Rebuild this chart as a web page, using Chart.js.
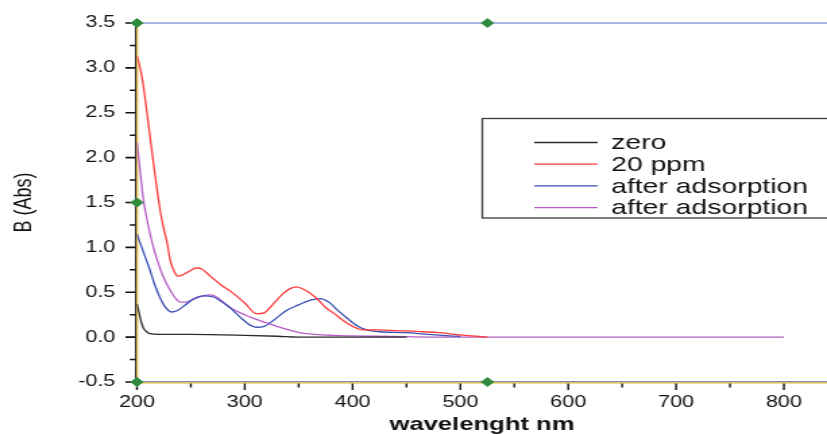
<!DOCTYPE html>
<html>
<head>
<meta charset="utf-8">
<title>UV-Vis spectra</title>
<script src="https://cdn.jsdelivr.net/npm/chart.js@4.4.1/dist/chart.umd.min.js"></script>
<style>
    html, body { margin: 0; padding: 0; background: #fff; overflow: hidden; }
    #spectrum { display: block; }
</style>
</head>
<body>
<!-- drawn narrow and stretched wide, like the exported plot -->
<canvas id="spectrum" width="613" height="434" style="width:827px;height:434px"></canvas>
<script>
// absorbance spectra (wavelength in nm, absorbance)
const zeroWl  = [200, 202, 204, 206, 209, 213, 220, 250, 300, 330, 350, 400, 450];
const zeroAbs = [0.37, 0.27, 0.17, 0.10, 0.06, 0.035, 0.03, 0.03, 0.02, 0.01, 0.0, 0.0, 0.0];

const ppmWl  = [200, 203, 206, 209, 212, 215, 218, 221, 225, 228, 231, 235, 238, 242, 248, 255, 260, 268, 278, 289,
                300, 311, 318, 325, 335, 342, 348, 355, 365, 375, 382, 392, 400, 410, 420, 435, 450, 465, 480, 495, 510, 525];
const ppmAbs = [3.13, 3.0, 2.8, 2.53, 2.25, 1.97, 1.7, 1.45, 1.2, 1.05, 0.85, 0.72, 0.68, 0.69, 0.73, 0.77, 0.76, 0.68, 0.58, 0.49,
                0.38, 0.26, 0.27, 0.35, 0.48, 0.54, 0.56, 0.53, 0.45, 0.33, 0.27, 0.18, 0.12, 0.08, 0.08, 0.075, 0.07, 0.06, 0.05, 0.03, 0.015, 0.0];

const adsAWl  = [200, 203, 206, 209, 212, 216, 221, 226, 232, 238, 245, 253, 261, 270, 278, 287, 296, 303, 311, 318,
                 328, 339, 350, 360, 370, 378, 386, 395, 405, 413, 425, 450, 470, 490, 500];
const adsAAbs = [1.15, 1.05, 0.95, 0.85, 0.75, 0.6, 0.45, 0.34, 0.28, 0.3, 0.36, 0.43, 0.46, 0.45, 0.4, 0.32, 0.22, 0.15, 0.11, 0.12,
                 0.2, 0.3, 0.36, 0.41, 0.43, 0.39, 0.3, 0.21, 0.12, 0.08, 0.06, 0.05, 0.03, 0.015, 0.01];

const adsBWl  = [200, 203, 206, 209, 212, 216, 221, 226, 231, 236, 240, 245, 252, 261, 268, 275, 282, 289, 300, 310,
                 320, 335, 351, 365, 382, 420, 450, 500, 600, 700, 800];
const adsBAbs = [2.17, 1.85, 1.53, 1.33, 1.16, 0.97, 0.78, 0.63, 0.52, 0.43, 0.39, 0.39, 0.42, 0.46, 0.47, 0.44, 0.37, 0.31, 0.25, 0.2,
                 0.16, 0.1, 0.05, 0.03, 0.02, 0.01, 0.005, 0.0, 0.0, 0.0, 0.0];

const seriesLabels = ['zero', '20 ppm', 'after adsorption', 'after adsorption'];
const seriesColors = ['#2b2b2b', '#ff3b3b', '#3c4fb4', '#b55cc4'];

// axis anchor markers
const markerWl  = [200, 525, 200, 200, 525];
const markerAbs = [3.5, 3.5, 1.5, -0.5, -0.5];

// ticks: labelled majors plus unlabelled minors in between
const xMajor = [200, 300, 400, 500, 600, 700, 800];
const xMinor = [250, 350, 450, 550, 650, 750];
const yMajor = [-0.5, 0.0, 0.5, 1.0, 1.5, 2.0, 2.5, 3.0, 3.5];
const yMinor = [-0.25, 0.25, 0.75, 1.25, 1.75, 2.25, 2.75, 3.25];

const FONT = "'Liberation Sans', Arial, sans-serif";

function zip(xs, ys) {
    return xs.map((x, i) => ({ x: x, y: ys[i] }));
}

function withMinors(major, minor) {
    return major.concat(minor).sort((a, b) => a - b).map(v => ({ value: v }));
}

// frame lines and tick marks
const axisFrame = {
    id: 'axisFrame',
    beforeDatasetsDraw(chart) {
        const { ctx, chartArea: a, scales } = chart;
        ctx.save();
        ctx.lineCap = 'butt';

        ctx.strokeStyle = '#4d6fc9';
        ctx.lineWidth = 1.2;
        ctx.beginPath();
        ctx.moveTo(a.left, a.top);
        ctx.lineTo(a.right, a.top);
        ctx.stroke();

        ctx.strokeStyle = '#e3b32a';
        ctx.lineWidth = 1.4;
        ctx.beginPath();
        ctx.moveTo(a.left, a.bottom + 0.9);
        ctx.lineTo(a.right, a.bottom + 0.9);
        ctx.stroke();
        ctx.strokeStyle = '#6f7f9f';
        ctx.lineWidth = 1;
        ctx.beginPath();
        ctx.moveTo(a.left, a.bottom - 0.4);
        ctx.lineTo(a.right, a.bottom - 0.4);
        ctx.stroke();

        ctx.strokeStyle = '#1e1e1e';
        ctx.lineWidth = 1.1;
        ctx.beginPath();
        ctx.moveTo(a.left - 0.9, a.top);
        ctx.lineTo(a.left - 0.9, a.bottom + 1.5);
        ctx.stroke();
        ctx.strokeStyle = '#e3b32a';
        ctx.lineWidth = 1.1;
        ctx.beginPath();
        ctx.moveTo(a.left + 0.3, a.top);
        ctx.lineTo(a.left + 0.3, a.bottom + 1.5);
        ctx.stroke();

        ctx.strokeStyle = '#111';
        ctx.lineWidth = 1.4;
        ctx.beginPath();
        scales.x.ticks.forEach(t => {
            const px = scales.x.getPixelForValue(t.value);
            const len = xMajor.includes(t.value) ? 6.5 : 4;
            ctx.moveTo(px, a.bottom + 1.5);
            ctx.lineTo(px, a.bottom + 1.5 + len);
        });
        ctx.stroke();
        ctx.lineWidth = 1.6;
        ctx.beginPath();
        scales.y.ticks.forEach(t => {
            const py = scales.y.getPixelForValue(t.value);
            const len = yMajor.includes(t.value) ? 7 : 3.8;
            ctx.moveTo(a.left - 1.5 - len, py);
            ctx.lineTo(a.left - 1.5, py);
        });
        ctx.stroke();
        ctx.restore();
    }
};

// boxed legend in the upper right
const boxLegend = {
    id: 'boxLegend',
    afterDraw(chart) {
        const ctx = chart.ctx;
        const sets = chart.data.datasets.filter(d => d.label);
        ctx.save();
        ctx.fillStyle = '#fff';
        ctx.fillRect(357, 118, 300, 100);
        ctx.strokeStyle = '#3c3c3c';
        ctx.lineWidth = 1.3;
        ctx.strokeRect(357.5, 118.5, 300, 99.5);
        ctx.font = '21px ' + FONT;
        ctx.textBaseline = 'middle';
        sets.forEach((d, i) => {
            const yy = 142.5 + i * 21.7;
            ctx.strokeStyle = d.borderColor;
            ctx.lineWidth = 1.3;
            ctx.beginPath();
            ctx.moveTo(396, yy);
            ctx.lineTo(443, yy);
            ctx.stroke();
            ctx.fillStyle = '#111';
            ctx.fillText(d.label, 453, yy + 1);
        });
        ctx.restore();
    }
};

const spectra = [
    [zeroWl, zeroAbs],
    [ppmWl, ppmAbs],
    [adsAWl, adsAAbs],
    [adsBWl, adsBAbs]
].map(([wl, abs], i) => ({
    label: seriesLabels[i],
    data: zip(wl, abs),
    borderColor: seriesColors[i],
    borderWidth: 1.3,
    pointRadius: 0,
    cubicInterpolationMode: 'monotone',
    fill: false
}));

const markers = {
    label: '',
    data: zip(markerWl, markerAbs),
    showLine: false,
    pointStyle: 'rectRot',
    pointRadius: 4.5,
    pointBackgroundColor: '#2e8b3c',
    pointBorderColor: '#2e8b3c',
    clip: false,
    order: -1
};

new Chart(document.getElementById('spectrum').getContext('2d'), {
    type: 'line',
    data: { datasets: spectra.concat([markers]) },
    options: {
        responsive: false,
        animation: false,
        devicePixelRatio: 1,
        layout: { autoPadding: false, padding: { top: 23, left: 0, right: 0, bottom: 0 } },
        plugins: {
            legend: { display: false },
            tooltip: { enabled: false }
        },
        scales: {
            x: {
                type: 'linear',
                min: 200,
                max: 840,
                afterBuildTicks: s => { s.ticks = withMinors(xMajor, xMinor); },
                afterFit: s => { s.height = 52; s.paddingLeft = 0; s.paddingRight = 0; },
                grid: { display: false, drawTicks: false },
                border: { display: false },
                ticks: {
                    autoSkip: false,
                    maxRotation: 0,
                    padding: 11,
                    color: '#111',
                    font: { family: FONT, size: 16 },
                    callback: v => xMajor.includes(v) ? String(v) : ''
                },
                title: {
                    display: true,
                    text: 'wavelenght nm',
                    color: '#111',
                    font: { family: FONT, size: 19, weight: 'bold' },
                    padding: { top: 0, bottom: -2 }
                }
            },
            y: {
                type: 'linear',
                min: -0.5,
                max: 3.5,
                afterBuildTicks: s => { s.ticks = withMinors(yMajor, yMinor); },
                afterFit: s => { s.width = 101.5; s.paddingTop = 0; s.paddingBottom = 0; },
                grid: { display: false, drawTicks: false },
                border: { display: false },
                ticks: {
                    autoSkip: false,
                    padding: 16,
                    color: '#111',
                    font: { family: FONT, size: 16 },
                    callback: v => yMajor.includes(v) ? v.toFixed(1) : ''
                },
                title: {
                    display: true,
                    text: 'B (Abs)',
                    color: '#111',
                    font: { family: FONT, size: 18 },
                    padding: { top: 7, bottom: 0 }
                }
            }
        }
    },
    plugins: [axisFrame, boxLegend]
});
</script>
</body>
</html>
